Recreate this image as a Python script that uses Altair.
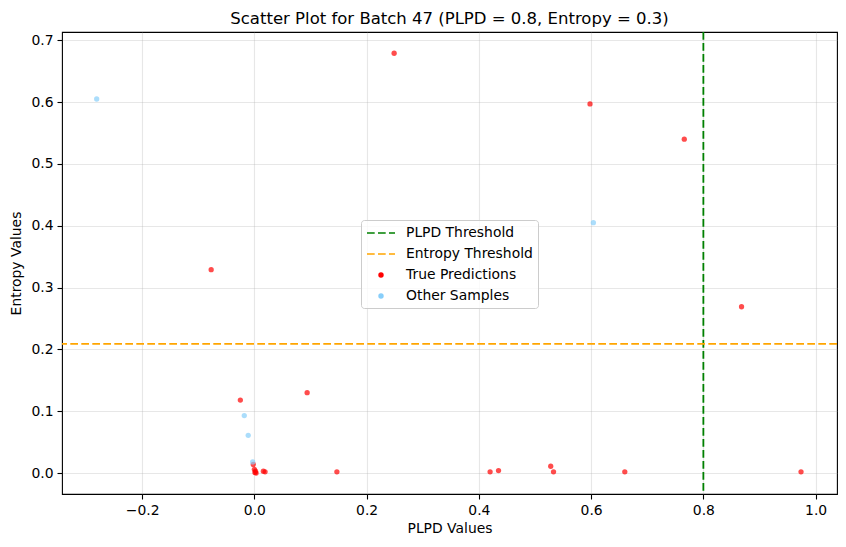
import altair as alt
import pandas as pd

# ---- data ----
true_x = [0.249, 0.598, 0.766, 0.868, -0.077, -0.025, 0.094, 0.147, 0.420, 0.435,
          0.528, 0.533, 0.660, 0.974, -0.002, 0.000, 0.001, 0.003, 0.016, 0.019, 0.002]
true_y = [0.679, 0.597, 0.540, 0.269, 0.329, 0.118, 0.130, 0.002, 0.002, 0.004,
          0.011, 0.002, 0.002, 0.002, 0.014, 0.006, 0.001, 0.000, 0.003, 0.002, 0.003]
other_x = [-0.281, 0.604, -0.018, -0.011, -0.003]
other_y = [0.605, 0.405, 0.093, 0.061, 0.018]

plpd_threshold = [0.8]
entropy_threshold = [0.209]

legend_labels = ["PLPD Threshold", "Entropy Threshold", "True Predictions", "Other Samples"]
legend_colors = ["#008000", "#FFA500", "#FF0000", "#87CEFA"]

x_ticks = [-0.2, 0.0, 0.2, 0.4, 0.6, 0.8, 1.0]
y_ticks = [0.0, 0.1, 0.2, 0.3, 0.4, 0.5, 0.6, 0.7]
x_domain = [-0.3428, 1.0381]
y_domain = [-0.0339, 0.7134]

FONT = "DejaVu Sans"

true_df = pd.DataFrame({"x": true_x, "y": true_y})
other_df = pd.DataFrame({"x": other_x, "y": other_y})
vline_df = pd.DataFrame({"x": plpd_threshold})
hline_df = pd.DataFrame({"y": entropy_threshold})
legend_data = alt.Data(values=[{"label": l, "x": None, "y": None} for l in legend_labels])

xscale = alt.Scale(domain=x_domain, nice=False, zero=False)
yscale = alt.Scale(domain=y_domain, nice=False, zero=False)

x_axis = alt.Axis(values=x_ticks, format=".1f", title="PLPD Values", grid=True)
y_axis = alt.Axis(values=y_ticks, format=".1f", title="Entropy Values", grid=True)

dash_path = "M-1,0L0.1,0M0.57,0L1.67,0M2.14,0L3,0"
dot_path = "M0.72,0A0.28,0.28,0,1,0,1.28,0A0.28,0.28,0,1,0,0.72,0Z"

vline = alt.Chart(vline_df).mark_rule(color="#008000", strokeWidth=1.8, strokeDash=[7.7, 3.3]).encode(
    x=alt.X("x:Q", scale=xscale, axis=x_axis)
)
hline = alt.Chart(hline_df).mark_rule(color="#FFA500", strokeWidth=1.8, strokeDash=[7.7, 3.3]).encode(
    y=alt.Y("y:Q", scale=yscale, axis=y_axis)
)
true_pts = alt.Chart(true_df).mark_circle(color="#FF0000", opacity=0.7, size=28).encode(
    x=alt.X("x:Q", scale=xscale, axis=x_axis),
    y=alt.Y("y:Q", scale=yscale, axis=y_axis),
)
other_pts = alt.Chart(other_df).mark_circle(color="#87CEFA", opacity=0.7, size=28).encode(
    x=alt.X("x:Q", scale=xscale, axis=x_axis),
    y=alt.Y("y:Q", scale=yscale, axis=y_axis),
)

leg = alt.Legend(
    title=None, orient="none", legendX=299, legendY=188, padding=5,
    symbolSize=196, symbolStrokeWidth=1.5, labelOffset=24, rowPadding=6,
    labelFontSize=13.9, labelFont=FONT, labelColor="black", labelLimit=0,
    fillColor="rgba(255,255,255,0.8)", strokeColor="#cccccc", cornerRadius=3,
)
legend_layer = alt.Chart(legend_data).mark_point(filled=True, opacity=1, strokeWidth=1.5).encode(
    x=alt.X("x:Q", scale=xscale, axis=x_axis),
    y=alt.Y("y:Q", scale=yscale, axis=y_axis),
    fill=alt.Fill("label:N", scale=alt.Scale(domain=legend_labels, range=legend_colors), legend=leg, sort=legend_labels),
    stroke=alt.Stroke("label:N", scale=alt.Scale(domain=legend_labels, range=legend_colors), legend=leg, sort=legend_labels),
    shape=alt.Shape("label:N", scale=alt.Scale(domain=legend_labels, range=[dash_path, dash_path, dot_path, dot_path]), legend=leg, sort=legend_labels),
)

chart = alt.layer(vline, hline, true_pts, other_pts, legend_layer).properties(
    width=775, height=462,
    autosize=alt.AutoSizeParams(type="none"),
    padding={"left": 54, "top": 24, "right": 1, "bottom": 48},
    title=alt.Title("Scatter Plot for Batch 47 (PLPD = 0.8, Entropy = 0.3)",
                    font=FONT, fontSize=16.5, fontWeight="normal", color="black",
                    anchor="middle", offset=4),
).configure_view(stroke="black", strokeWidth=1.1).configure_axis(
    domain=False, grid=True, gridColor="#b0b0b0", gridOpacity=0.3, gridWidth=1.1,
    tickColor="black", tickSize=5, tickWidth=1.1, labelPadding=4,
    labelFont=FONT, labelFontSize=13.9, labelColor="black",
    titleFont=FONT, titleFontSize=13.9, titleFontWeight="normal", titleColor="black",
).configure_axisX(titlePadding=5).configure_axisY(titlePadding=7)

chart.save("out.html", embed_options={"renderer": "svg", "actions": False})
